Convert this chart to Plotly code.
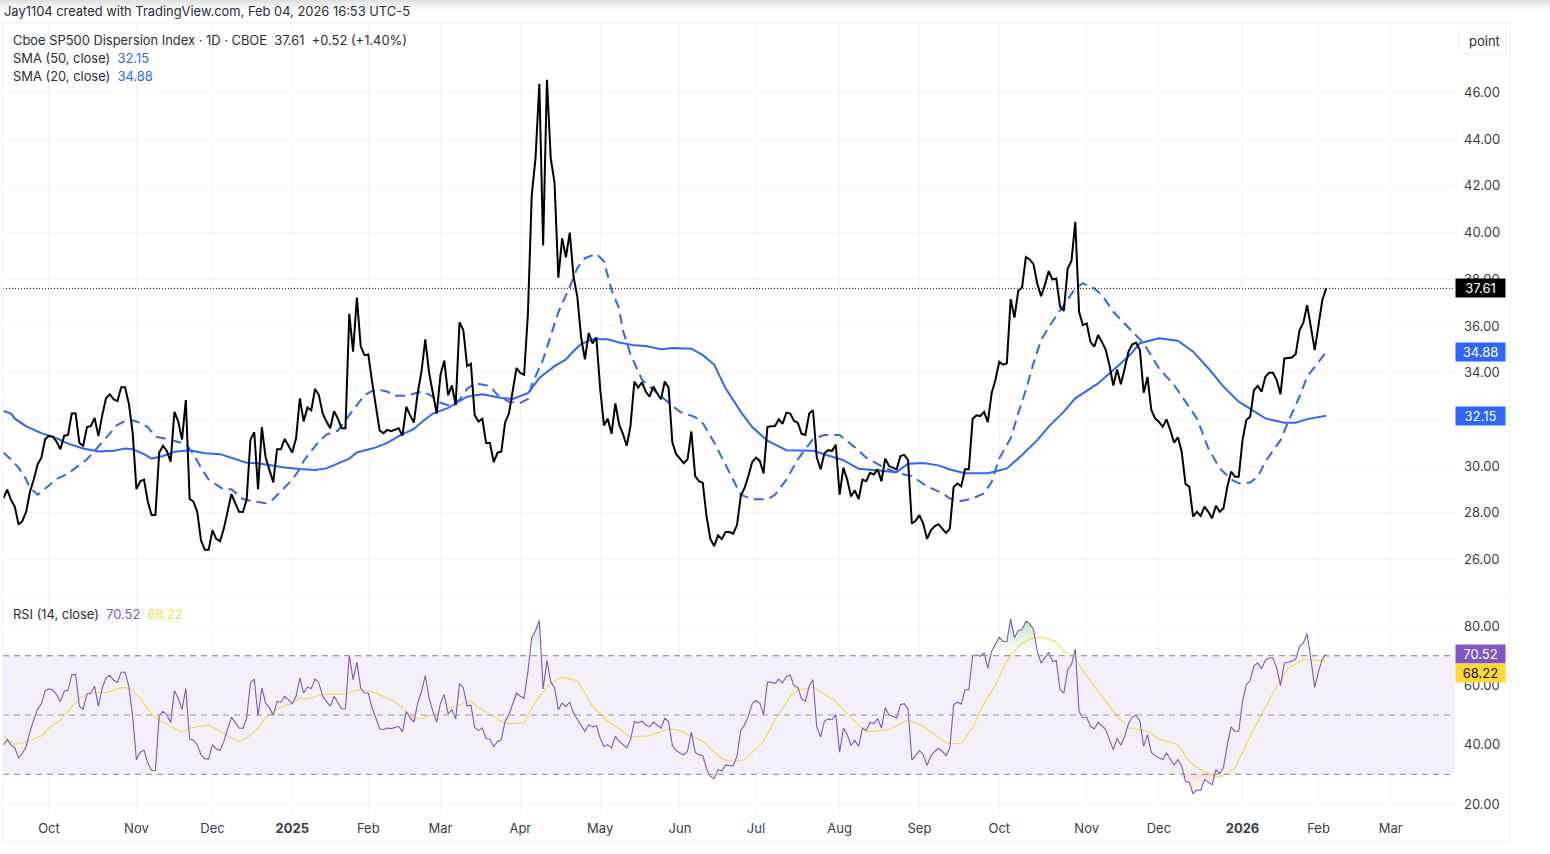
import plotly.graph_objects as go

# bar number counted in trading days, 0 = 1 Oct 2024
month_bars = [0, 23, 43, 64, 84, 103, 124, 145, 166, 186, 208, 229, 250, 273, 292, 314, 334, 353]
month_labels = ["Oct", "Nov", "Dec", "<b>2025</b>", "Feb", "Mar", "Apr", "May", "Jun", "Jul", "Aug", "Sep",
                "Oct", "Nov", "Dec", "<b>2026</b>", "Feb", "Mar"]
first_bar = -12

close = [
    28.62, 28.99, 28.55, 28.26, 27.49, 27.65, 28.04, 28.91, 29.42, 30.07, 30.36, 31.16,
    31.29, 31.26, 31.04, 30.72, 31.30, 31.33, 32.25, 32.26, 30.99, 30.87, 31.67, 31.71, 32.06, 31.28, 32.17, 32.90,
    33.07, 32.86, 32.78, 33.38, 33.38, 32.68, 31.45,
    29.01, 29.35, 29.42, 28.48, 27.90, 27.90, 30.58, 30.87, 30.65, 30.19, 32.32, 31.91, 31.13, 32.83, 28.59, 28.48,
    28.04, 26.81, 26.41, 26.41,
    27.25, 26.88, 26.78, 27.32, 28.07, 28.80, 28.41, 28.04, 28.03, 28.55, 31.13, 31.45, 29.01, 31.67, 30.36, 29.86,
    29.30, 30.72, 30.72, 31.16, 30.87,
    30.58, 31.19, 32.90, 31.91, 32.51, 32.39, 33.30, 33.04, 32.25, 31.91, 31.62, 32.35, 32.03, 31.62, 31.62, 36.52,
    34.90, 37.22, 35.14, 34.75,
    34.78, 33.62, 32.61, 31.52, 31.41, 31.55, 31.49, 31.57, 31.62, 31.30, 32.54, 32.17, 31.86, 33.12, 34.06, 35.43,
    33.99, 33.12, 32.25,
    33.91, 34.52, 33.04, 33.45, 32.61, 36.16, 35.83, 34.28, 34.38, 32.17, 31.91, 32.03, 30.99, 30.99, 30.17, 30.58,
    30.62, 31.88, 32.25, 33.26, 34.20,
    33.99, 33.91, 36.52, 41.59, 43.19, 46.38, 39.45, 46.55, 43.19, 42.14, 38.07, 39.75, 38.94, 40.00, 38.12, 37.25,
    35.51, 34.57, 35.70, 35.25, 35.51,
    33.33, 31.74, 32.03, 31.38, 32.68, 31.77, 31.38, 30.87, 31.74, 33.62, 33.36, 33.59, 33.19, 32.97, 33.41, 33.12,
    32.86, 33.62, 33.36, 31.01, 30.51,
    30.32, 30.12, 30.29, 31.48, 29.57, 29.35, 29.28, 27.83, 26.88, 26.57, 27.03, 26.87, 27.17, 27.17, 27.10, 27.46,
    28.72, 29.06, 29.57, 30.17,
    30.36, 30.22, 29.68, 31.67, 31.70, 31.71, 32.00, 31.81, 32.29, 32.25, 31.93, 31.86, 31.38, 31.33, 32.25, 32.39,
    30.36, 29.86, 30.55, 30.68, 30.65, 30.91,
    28.77, 29.93, 29.42, 28.70, 28.96, 28.58, 29.42, 29.35, 29.71, 29.64, 29.86, 29.35, 30.32, 30.00, 29.93, 29.86,
    30.43, 30.48, 30.26, 27.54, 27.65,
    27.90, 27.54, 26.88, 27.25, 27.42, 27.51, 27.32, 27.13, 27.32, 29.10, 29.25, 29.13, 29.86, 29.86, 32.03, 32.17,
    32.14, 32.32, 31.88, 33.12, 33.70,
    34.47, 34.34, 34.40, 37.15, 36.36, 37.51, 37.65, 38.96, 38.85, 38.65, 37.82, 37.28, 37.75, 38.35, 37.99, 38.03,
    36.82, 36.65, 38.46, 38.79, 40.46, 36.61, 36.04,
    36.11, 35.32, 35.11, 35.61, 35.32, 34.99, 34.32, 33.45, 34.14, 33.50, 34.18, 34.90, 35.22, 35.28, 34.97, 33.14,
    33.82, 32.40, 32.04,
    31.90, 31.68, 32.00, 31.54, 31.00, 31.23, 30.61, 29.23, 29.12, 27.83, 28.04, 27.86, 28.26, 28.04, 27.76, 28.30,
    28.04, 28.19, 29.12, 29.76, 29.54, 29.54,
    31.11, 31.97, 32.11, 33.25, 33.43, 33.18, 33.82, 34.00, 34.00, 33.68, 33.08, 34.61, 34.62, 34.65, 34.80, 35.82,
    36.14, 36.89, 35.94, 34.97,
    36.04, 37.11, 37.61,
]

sma50_bars = [-12, -10, -9, -6, -2, 2, 5, 9, 13, 17, 20, 22, 25, 27, 30, 33, 37, 41, 45, 48, 52, 55, 59, 62, 66, 70, 73,
              76, 79, 81, 84, 86, 89, 92, 96, 98, 101, 105, 107, 110, 114, 119, 122, 126, 129, 133, 136, 138, 140, 143,
              147, 150, 154, 157, 161, 164, 169, 172, 175, 178, 182, 185, 189, 194, 201, 204, 209, 213, 219, 223, 226,
              230, 234, 237, 241, 247, 252, 256, 260, 263, 267, 270, 276, 280, 284, 287, 292, 297, 301, 305, 309, 313,
              317, 320, 325, 328, 331, 336]
sma50 = [32.36, 32.25, 32.03, 31.70, 31.41, 31.19, 30.96, 30.75, 30.62, 30.65, 30.75, 30.72, 30.51, 30.32, 30.43, 30.61,
         30.68, 30.55, 30.51, 30.36, 30.14, 30.12, 30.00, 29.94, 29.87, 29.83, 29.90, 30.12, 30.32, 30.58, 30.72, 30.80,
         30.99, 31.28, 31.59, 31.88, 32.25, 32.49, 32.68, 32.97, 33.07, 32.92, 32.87, 33.12, 33.77, 34.28, 34.57, 34.93,
         35.22, 35.43, 35.43, 35.29, 35.17, 35.14, 35.00, 35.06, 35.03, 34.75, 34.35, 33.33, 32.32, 31.67, 31.09, 30.68,
         30.65, 30.51, 30.25, 29.88, 29.78, 29.74, 30.10, 30.13, 30.03, 29.85, 29.69, 29.69, 29.90, 30.47, 31.11, 31.69,
         32.33, 32.90, 33.54, 34.11, 34.69, 35.26, 35.47, 35.37, 34.90, 34.19, 33.40, 32.76, 32.33, 32.04, 31.86, 31.86,
         32.01, 32.15]

sma20_bars = [-12, -10, -8, -6, -5, -3, 0, 2, 5, 7, 10, 12, 14, 16, 18, 21, 23, 26, 28, 31, 34, 36, 38, 40, 42, 44, 46,
              48, 51, 54, 57, 59, 62, 64, 66, 67, 69, 71, 73, 76, 78, 79, 81, 83, 86, 89, 91, 94, 98, 100, 103, 105, 108,
              110, 112, 116, 118, 121, 124, 126, 127, 130, 132, 134, 137, 139, 141, 144, 146, 148, 150, 151, 153, 156,
              160, 164, 166, 170, 172, 175, 178, 180, 182, 185, 189, 191, 194, 197, 201, 204, 208, 212, 215, 219, 223,
              227, 231, 235, 237, 240, 243, 246, 248, 250, 253, 255, 257, 259, 261, 264, 268, 270, 272, 275, 277, 280,
              285, 288, 292, 296, 299, 302, 305, 308, 311, 313, 316, 318, 320, 324, 326, 329, 331, 334, 336]
sma20 = [30.58, 30.29, 29.93, 29.42, 29.06, 28.77, 29.17, 29.45, 29.68, 29.93, 30.29, 30.65, 31.04, 31.38, 31.77, 32.00,
         31.91, 31.67, 31.26, 31.16, 31.04, 30.94, 30.51, 29.93, 29.42, 29.20, 28.99, 29.01, 28.59, 28.48, 28.41, 28.58,
         29.06, 29.42, 29.88, 30.22, 30.65, 31.04, 31.35, 31.52, 31.96, 32.17, 32.64, 33.04, 33.30, 33.19, 33.01, 33.01,
         33.19, 33.07, 32.71, 32.61, 32.83, 33.30, 33.55, 33.43, 33.04, 32.75, 32.71, 32.87, 33.48, 34.57, 35.58, 36.59,
         37.68, 38.48, 38.91, 39.09, 38.77, 37.54, 36.74, 35.80, 34.78, 33.70, 33.12, 32.61, 32.32, 32.10, 31.84, 31.01,
         30.07, 29.42, 28.77, 28.58, 28.58, 28.77, 29.42, 30.29, 31.16, 31.33, 31.33, 30.80, 30.36, 30.00, 29.71, 29.57,
         29.13, 28.84, 28.61, 28.50, 28.61, 28.83, 29.33, 30.33, 31.19, 32.26, 33.26, 34.40, 35.40, 36.19, 37.11, 37.61,
         37.83, 37.61, 37.33, 36.61, 35.76, 35.26, 34.19, 33.47, 32.76, 32.04, 30.76, 29.90, 29.43, 29.26, 29.29, 29.54,
         30.19, 31.11, 31.90, 32.97, 33.83, 34.47, 34.88]

rsi = [
    39.8, 41.7, 40.0, 38.9, 35.5, 37.0, 39.4, 44.5, 48.4, 52.0, 53.7, 58.3,
    58.8, 58.4, 56.9, 54.5, 58.0, 58.3, 63.6, 63.7, 52.9, 52.0, 57.1, 57.4, 59.7, 52.9, 59.1, 62.5, 63.4, 61.7, 61.0,
    64.4, 64.4, 59.7, 49.6,
    34.9, 37.5, 38.1, 33.8, 31.3, 31.3, 49.8, 51.2, 50.1, 47.5, 58.2, 55.7, 51.8, 58.9, 41.9, 41.5, 40.0, 36.6, 35.2,
    35.2,
    40.0, 38.5, 38.1, 41.1, 45.1, 49.3, 47.5, 45.6, 45.5, 48.9, 60.8, 62.1, 49.6, 59.1, 54.0, 52.4, 49.9, 54.6, 54.3,
    56.3, 55.2,
    53.8, 56.3, 62.5, 57.4, 59.4, 58.9, 62.1, 60.8, 56.3, 54.6, 52.9, 56.3, 54.3, 52.1, 52.1, 70.3, 61.9, 67.8, 59.1,
    57.4,
    57.4, 52.4, 49.0, 45.3, 45.1, 45.6, 45.4, 45.7, 46.2, 44.4, 51.2, 49.0, 47.6, 54.0, 58.0, 63.3, 55.7, 51.2, 47.6,
    54.0, 56.9, 50.4, 51.8, 48.7, 60.6, 59.1, 53.1, 53.3, 45.8, 44.8, 45.6, 42.0, 41.9, 39.3, 41.1, 41.6, 47.9, 50.1,
    53.8, 57.4,
    56.3, 55.7, 64.7, 76.0, 78.5, 81.9, 58.8, 68.4, 61.3, 59.1, 51.8, 54.0, 52.9, 54.3, 50.7, 48.7, 46.4, 44.4, 46.7,
    46.0, 46.4,
    42.2, 39.4, 40.0, 38.9, 42.8, 41.1, 40.0, 38.9, 41.7, 47.8, 47.3, 47.9, 46.7, 46.0, 47.6, 46.7, 45.6, 48.9, 47.8,
    39.7, 38.0,
    37.2, 36.6, 37.8, 44.2, 37.4, 36.6, 36.3, 31.8, 29.3, 28.5, 31.6, 31.2, 33.1, 33.1, 32.9, 36.1, 44.8, 46.7, 49.6,
    53.8,
    54.9, 54.0, 50.1, 61.0, 61.1, 60.6, 62.1, 60.8, 63.0, 63.4, 59.9, 59.3, 55.4, 54.6, 59.9, 61.9, 45.8, 42.6, 47.9,
    48.7, 48.4, 50.1,
    37.5, 45.6, 43.4, 39.7, 41.5, 39.4, 45.6, 44.8, 47.5, 47.1, 48.8, 45.6, 52.4, 50.1, 49.6, 49.0, 53.5, 53.8, 52.0,
    34.9, 36.3,
    38.1, 36.6, 33.0, 36.1, 37.8, 38.7, 37.8, 36.3, 38.9, 53.5, 54.3, 53.7, 58.5, 58.5, 70.0, 70.3, 69.8, 70.9, 65.8,
    71.5, 73.7,
    76.2, 74.8, 74.8, 82.4, 76.0, 78.5, 78.8, 81.6, 80.8, 78.8, 71.5, 67.5, 69.2, 71.1, 68.1, 68.3, 58.5, 57.4, 65.3,
    67.0, 72.2, 51.2, 49.0,
    49.3, 46.2, 45.3, 47.6, 46.4, 45.1, 41.7, 38.3, 42.2, 39.8, 42.8, 47.1, 49.3, 49.9, 47.9, 39.4, 43.4, 37.4, 36.3,
    35.5, 34.9, 37.2, 35.2, 33.1, 34.9, 32.7, 27.6, 27.3, 23.5, 24.8, 24.6, 28.2, 27.3, 26.5, 31.6, 30.2, 32.4, 40.0,
    46.0, 44.5, 44.5,
    54.6, 60.2, 61.6, 66.6, 67.5, 65.6, 68.4, 69.2, 69.2, 65.8, 59.9, 67.5, 67.9, 68.1, 68.9, 73.1, 74.3, 77.4, 68.7,
    59.3,
    64.7, 68.9, 70.52,
]

rsi_ma_bars = [-12, -10, -9, -6, -2, 0, 3, 5, 8, 10, 12, 15, 18, 20, 22, 24, 26, 28, 31, 35, 37, 42, 45, 48, 50, 52, 55,
               57, 60, 64, 66, 68, 72, 75, 78, 81, 84, 87, 92, 96, 98, 102, 107, 111, 113, 116, 119, 121, 125, 127, 129,
               132, 135, 139, 143, 147, 153, 158, 163, 166, 172, 177, 180, 183, 188, 191, 195, 197, 201, 207, 211, 215,
               221, 226, 230, 236, 240, 243, 246, 249, 251, 253, 256, 259, 261, 265, 267, 270, 273, 276, 279, 281, 284,
               286, 289, 292, 297, 300, 303, 306, 308, 312, 316, 319, 323, 326, 330, 336]
rsi_ma = [43.1, 41.1, 40.0, 40.9, 43.0, 45.6, 48.2, 51.2, 55.5, 56.9, 57.8, 57.4, 58.9, 59.4, 58.5, 55.7, 52.0, 49.0,
          47.0, 44.2, 45.6, 46.6, 44.5, 42.2, 41.1, 42.2, 45.6, 49.2, 52.0, 54.0, 55.7, 55.4, 56.9, 57.2, 56.9, 58.5,
          58.2, 56.9, 53.7, 48.7, 48.8, 50.7, 53.1, 54.8, 52.4, 50.3, 47.9, 47.1, 47.3, 52.4, 56.3, 60.8, 62.7, 61.6,
          52.9, 47.9, 42.6, 43.0, 45.3, 44.8, 41.1, 35.2, 34.2, 34.9, 41.1, 48.4, 56.3, 58.3, 59.4, 54.6, 49.0, 44.3,
          45.1, 48.4, 46.2, 40.6, 40.3, 45.6, 54.0, 60.1, 65.8, 70.2, 74.3, 76.0, 76.2, 74.8, 71.5, 69.2, 63.0, 57.9,
          52.9, 49.6, 45.6, 45.3, 44.5, 41.9, 40.0, 34.4, 31.6, 29.7, 29.0, 32.0, 42.8, 50.1, 59.7, 65.7, 68.8, 68.22]

price_ticks = [26, 28, 30, 32, 34, 36, 38, 40, 42, 44, 46]
rsi_ticks = [20, 40, 60, 80]

W, H = 1550, 854
FONT = "Inter"
TEXT = "#2a2e39"
AXIS_TEXT = "#3a3e48"
GRID = "#f3f4f6"
BLUE = "#2e66ff"
PURPLE = "#7e57c2"
YELLOW = "#fdd84f"

bars = list(range(first_bar, first_bar + len(close)))
rsi_bars = list(range(first_bar, first_bar + len(rsi)))
x_range = [-12.1, 369.9]

fig = go.Figure()
fig.add_trace(go.Scatter(x=sma20_bars, y=sma20, mode="lines", line=dict(color=BLUE, width=2, dash="10px,6px")))
fig.add_trace(go.Scatter(x=sma50_bars, y=sma50, mode="lines", line=dict(color=BLUE, width=2)))
fig.add_trace(go.Scatter(x=bars, y=close, mode="lines", line=dict(color="#000000", width=2)))

# overbought / oversold shading
fig.add_trace(go.Scatter(x=rsi_bars, y=[70] * len(rsi), xaxis="x2", yaxis="y2", mode="lines", line=dict(width=0)))
fig.add_trace(go.Scatter(
    x=rsi_bars, y=[max(v, 70) for v in rsi], xaxis="x2", yaxis="y2", mode="lines", line=dict(width=0),
    fill="tonexty",
    fillgradient=dict(type="vertical", colorscale=[[0, "rgba(76,175,80,0)"], [1, "rgba(76,175,80,0.32)"]]),
))
fig.add_trace(go.Scatter(x=rsi_bars, y=[30] * len(rsi), xaxis="x2", yaxis="y2", mode="lines", line=dict(width=0)))
fig.add_trace(go.Scatter(
    x=rsi_bars, y=[min(v, 30) for v in rsi], xaxis="x2", yaxis="y2", mode="lines", line=dict(width=0),
    fill="tonexty",
    fillgradient=dict(type="vertical", colorscale=[[0, "rgba(244,67,54,0)"], [1, "rgba(244,67,54,0.18)"]]),
))
fig.add_trace(go.Scatter(x=rsi_ma_bars, y=rsi_ma, xaxis="x2", yaxis="y2", mode="lines", line=dict(color=YELLOW, width=1.1)))
fig.add_trace(go.Scatter(x=rsi_bars, y=rsi, xaxis="x2", yaxis="y2", mode="lines", line=dict(color=PURPLE, width=1.1)))

xdomain = [3 / W, 1455 / W]
fig.update_layout(
    width=W, height=H, margin=dict(l=0, r=0, t=0, b=0),
    paper_bgcolor="white", plot_bgcolor="white", showlegend=False,
    font=dict(family=FONT, color=TEXT, size=13),
    xaxis=dict(domain=xdomain, range=x_range, anchor="y", tickvals=month_bars, showticklabels=False,
               showgrid=True, gridcolor=GRID, gridwidth=1, zeroline=False, ticks=""),
    xaxis2=dict(domain=xdomain, range=x_range, anchor="y2", tickvals=month_bars, ticktext=month_labels,
                showgrid=True, gridcolor=GRID, gridwidth=1, zeroline=False, ticks="", tickangle=0,
                ticklabelstandoff=7, tickfont=dict(size=13, color=AXIS_TEXT)),
    # the 32.00 label sits fully behind the 32.15 badge in the chart, so only its gridline shows
    yaxis=dict(domain=[1 - 597 / H, 1 - 23 / H], range=[24.39, 48.98], side="right", anchor="x",
               tickvals=price_ticks, ticktext=["" if v == 32 else f"{v:.2f}" for v in price_ticks], showgrid=True,
               gridcolor=GRID, zeroline=False, ticks="", ticklabelstandoff=8, tickfont=dict(size=13, color=AXIS_TEXT)),
    yaxis2=dict(domain=[1 - 812 / H, 1 - 598 / H], range=[17.30, 89.44], side="right", anchor="x2",
                tickvals=rsi_ticks, ticktext=[f"{v:.2f}" for v in rsi_ticks], showgrid=True, gridcolor=GRID,
                zeroline=False, ticks="", ticklabelstandoff=8, tickfont=dict(size=13, color=AXIS_TEXT)),
)

shapes = [
    dict(type="rect", xref="x2", yref="y2", x0=x_range[0], x1=x_range[1], y0=30, y1=70, layer="below",
         fillcolor="rgba(126,87,194,0.09)", line_width=0),
    dict(type="line", xref="x", yref="y", x0=x_range[0], x1=x_range[1], y0=close[-1], y1=close[-1],
         line=dict(color="#131722", width=1, dash="1px,2px")),
]
for level, width in [(70, 1.4), (50, 1), (30, 1.4)]:
    shapes.append(dict(type="line", xref="x2", yref="y2", x0=x_range[0], x1=x_range[1], y0=level, y1=level,
                       line=dict(color="#9a9ca6", width=width, dash="6px,5px")))
# chart frame and pane separator
for x0, y0, x1, y1 in [(3, 23, 1510, 23), (3, 23, 3, 842), (1510, 23, 1510, 842), (3, 842, 1510, 842), (3, 597, 1510, 597)]:
    shapes.append(dict(type="line", xref="paper", yref="paper", x0=x0 / W, x1=x1 / W, y0=1 - y0 / H, y1=1 - y1 / H,
                       line=dict(color="#f0f1f3", width=1)))
# grey shadow along the top edge of the screenshot
for i in range(16):
    shapes.append(dict(type="rect", xref="paper", yref="paper", x0=0, x1=1, y0=1 - (i + 1) / H, y1=1 - i / H,
                       fillcolor=f"rgba(0,0,0,{0.12 * (1 - i / 16) ** 2:.3f})", line_width=0, layer="below"))
# box around the "point" button
shapes.append(dict(type="rect", xref="paper", yref="paper", x0=1459 / W, x1=1506 / W, y0=1 - 54 / H, y1=1 - 27 / H,
                   line=dict(color="#f0f1f3", width=1), fillcolor="white"))
fig.update_layout(shapes=shapes)


def note(text, px, py, size=12.9):
    fig.add_annotation(text=text, xref="paper", yref="paper", x=px / W, y=1 - py / H, xanchor="left", yanchor="middle",
                       showarrow=False, font=dict(family=FONT, size=size, color=TEXT))


def badge(text, value, axis, bg, color):
    fig.add_annotation(text=text, xref="paper", yref=axis, x=1480.5 / W, y=value, xanchor="center", yanchor="middle",
                       showarrow=False, bgcolor=bg, width=47, height=16, borderpad=1,
                       font=dict(family=FONT, size=13, color=color))


note("Jay1104 created with TradingView.com, Feb 04, 2026 16:53 UTC-5", 1.5, 11)
note("Cboe SP500 Dispersion Index · 1D · CBOE  37.61  +0.52 (+1.40%)", 10.5, 40)
note(f"SMA (50, close)  <span style='color:{BLUE}'>32.15</span>", 10.5, 58.5)
note(f"SMA (20, close)  <span style='color:{BLUE}'>34.88</span>", 10.5, 76.5)
note(f"RSI (14, close)  <span style='color:{PURPLE}'>70.52</span>  <span style='color:{YELLOW}'>68.22</span>", 10.5, 614.5)
note("point", 1467, 41, size=13)

badge("37.61", close[-1], "y", "#000000", "white")
badge("34.88", sma20[-1], "y", BLUE, "white")
badge("32.15", sma50[-1], "y", BLUE, "white")
badge("70.52", 70.6, "y2", PURPLE, "white")
# label pushed down so it clears the 70.52 one, as the chart does
badge("68.22", 64.2, "y2", "#fdd835", "#131722")

fig.write_html("out.html", post_script="document.body.style.margin='0';", config={"displayModeBar": False})
